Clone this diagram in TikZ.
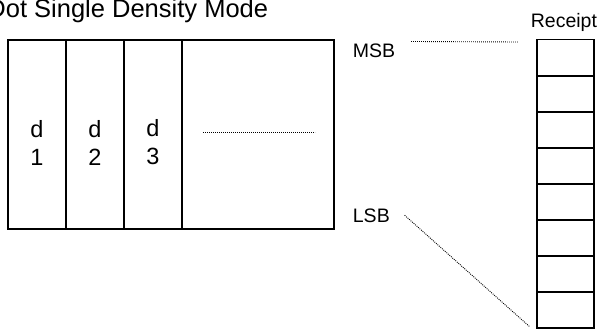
\documentclass[tikz,border=0pt]{standalone}
\usepackage{fontspec}
\setmainfont{Liberation Sans}
\usetikzlibrary{positioning}

\begin{document}
\begin{tikzpicture}[
    x=1pt, y=-1pt,
    line width=1.8pt,
    column/.style={
        draw=black,
        outer sep=0pt,
        inner sep=0pt,
        minimum width=58pt,
        minimum height=189pt
    },
    bitcell/.style={
        draw=black,
        outer sep=0pt,
        inner sep=0pt,
        minimum width=57pt,
        minimum height=36.1pt
    },
    digit/.style={
        align=center,
        inner sep=0pt,
        font=\fontsize{23.5}{28}\selectfont
    },
    tag/.style={
        inner sep=0pt,
        anchor=base west,
        font=\fontsize{19.5}{23}\selectfont
    },
    dotline/.style={
        line width=0.9pt,
        dash pattern=on 0.9pt off 1.1pt
    }
]

\useasboundingbox (0,0) rectangle (598,333);

% --- TITLE ----------------------------------------------------

\node[inner sep=0pt, anchor=base east, font=\fontsize{25.5}{30}\selectfont]
    (title) at (269,17) {Dot Single Density Mode};

% --- DATA COLUMNS ---------------------------------------------

\node[column] (c1) at (37,134.5) {};
\node[column, right=0pt of c1] (c2) {};
\node[column, right=0pt of c2] (c3) {};
\node[column, minimum width=152pt, right=0pt of c3] (rest) {};

\node[digit, yshift=-8pt] (d1) at (c1) {d\\1};
\node[digit, yshift=-8pt] (d2) at (c2) {d\\2};
\node[digit, yshift=-8pt] (d3) at (c3) {d\\3};

\draw[dotline] ([xshift=21pt,yshift=2.5pt]rest.west) -- ([xshift=-19pt,yshift=2.5pt]rest.east);

% --- RECEIPT BITS ---------------------------------------------

\node[tag] (receipt) at (530,27) {Receipt};

\node[bitcell] (r1) at (565.5,57.55) {};
\node[bitcell, below=0pt of r1] (r2) {};
\node[bitcell, below=0pt of r2] (r3) {};
\node[bitcell, below=0pt of r3] (r4) {};
\node[bitcell, below=0pt of r4] (r5) {};
\node[bitcell, below=0pt of r5] (r6) {};
\node[bitcell, below=0pt of r6] (r7) {};
\node[bitcell, below=0pt of r7] (r8) {};

% --- BIT ORDER ------------------------------------------------

\node[tag] (msb) at (352,57) {MSB};
\node[tag] (lsb) at (352,222) {LSB};

\draw[dotline] ([xshift=15pt,yshift=1pt]msb.north east) -- ([xshift=-19pt,yshift=-2.5pt]r1.north west);
\draw[dotline] ([xshift=14pt,yshift=0pt]lsb.east) -- ([xshift=-7pt,yshift=1.3pt]r8.south west);

\end{tikzpicture}
\end{document}
